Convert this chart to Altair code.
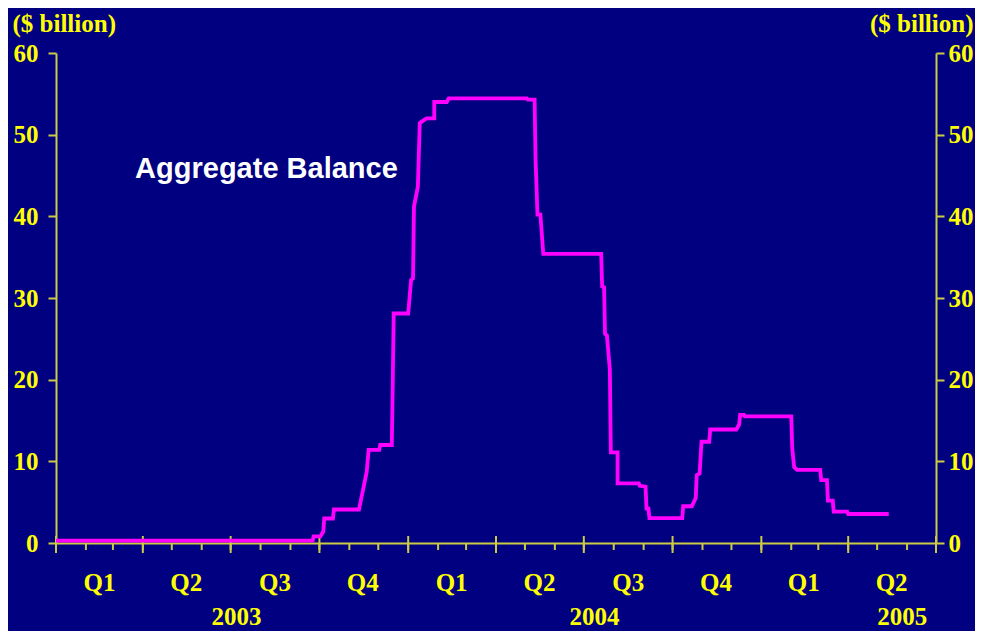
import altair as alt
import pandas as pd

# ---- data ----
line_dates = [
    "2003-01-01", "2003-09-24", "2003-09-25", "2003-10-02", "2003-10-05", "2003-10-06",
    "2003-10-15", "2003-10-16", "2003-11-11", "2003-11-19", "2003-11-21", "2003-12-02",
    "2003-12-03", "2003-12-15", "2003-12-16", "2003-12-17", "2004-01-01", "2004-01-04",
    "2004-01-06", "2004-01-07", "2004-01-11", "2004-01-13", "2004-01-15", "2004-01-20",
    "2004-01-28", "2004-01-28", "2004-02-10", "2004-02-12", "2004-05-03", "2004-05-04",
    "2004-05-11", "2004-05-12", "2004-05-14", "2004-05-17", "2004-05-20", "2004-07-19",
    "2004-07-20", "2004-07-22", "2004-07-23", "2004-07-25", "2004-07-28", "2004-07-29",
    "2004-08-05", "2004-08-05", "2004-08-27", "2004-08-28", "2004-09-03", "2004-09-04",
    "2004-09-06", "2004-09-07", "2004-10-11", "2004-10-12", "2004-10-21", "2004-10-25",
    "2004-10-26", "2004-10-29", "2004-10-31", "2004-11-08", "2004-11-09", "2004-12-06",
    "2004-12-09", "2004-12-10", "2004-12-14", "2004-12-15", "2005-02-01", "2005-02-02",
    "2005-02-04", "2005-02-07", "2005-03-03", "2005-03-04", "2005-03-10", "2005-03-11",
    "2005-03-16", "2005-03-17", "2005-03-31", "2005-04-01", "2005-05-13",
]
line_values = [
    0.3, 0.3, 0.8, 0.8, 1.4, 3.0,
    3.0, 4.1, 4.1, 8.7, 11.4, 11.4,
    12.0, 12.0, 19.5, 28.1, 28.1, 32.2,
    32.4, 41.2, 43.6, 51.4, 51.6, 52.0,
    52.0, 54.0, 54.0, 54.45, 54.45, 54.3,
    54.3, 47.0, 40.2, 40.2, 35.4, 35.4,
    31.4, 31.3, 25.6, 25.4, 21.2, 11.1,
    11.1, 7.3, 7.3, 7.0, 6.9, 4.2,
    4.2, 3.05, 3.05, 4.5, 4.5, 5.5,
    8.3, 8.5, 12.4, 12.4, 13.9, 13.9,
    14.5, 15.7, 15.7, 15.5, 15.5, 11.6,
    9.3, 8.95, 8.95, 7.7, 7.7, 5.2,
    5.2, 3.85, 3.85, 3.55, 3.55,
]

month_ticks = [
    "2003-01-01", "2003-02-01", "2003-03-01", "2003-04-01", "2003-05-01", "2003-06-01",
    "2003-07-01", "2003-08-01", "2003-09-01", "2003-10-01", "2003-11-01", "2003-12-01",
    "2004-01-01", "2004-02-01", "2004-03-01", "2004-04-01", "2004-05-01", "2004-06-01",
    "2004-07-01", "2004-08-01", "2004-09-01", "2004-10-01", "2004-11-01", "2004-12-01",
    "2005-01-01", "2005-02-01", "2005-03-01", "2005-04-01", "2005-05-01", "2005-06-01",
    "2005-07-01",
]
quarter_ticks = [
    "2003-01-01", "2003-04-01", "2003-07-01", "2003-10-01", "2004-01-01", "2004-04-01",
    "2004-07-01", "2004-10-01", "2005-01-01", "2005-04-01", "2005-07-01",
]
quarter_labels = ["Q1", "Q2", "Q3", "Q4", "Q1", "Q2", "Q3", "Q4", "Q1", "Q2"]
quarter_label_dates = [
    "2003-02-15", "2003-05-16", "2003-08-16", "2003-11-15", "2004-02-15",
    "2004-05-16", "2004-08-16", "2004-11-15", "2005-02-14", "2005-05-16",
]
year_labels = ["2003", "2004", "2005"]
year_label_dates = ["2003-07-07", "2004-07-12", "2005-05-27"]
y_ticks = [0, 10, 20, 30, 40, 50, 60]

annot_text = ["Aggregate Balance"]
annot_date = ["2003-03-24"]
annot_value = [44.7]

# ---- styling ----
BG = "#000080"
YEL = "#FFFF00"
AXC = "#CCCC44"
SERIF = "Liberation Serif"
SANS = "Liberation Sans"
FS = 25

line_df = pd.DataFrame({"date": line_dates, "value": line_values,
                        "i": list(range(len(line_dates)))})
month_df = pd.DataFrame({"date": month_ticks})
quarter_df = pd.DataFrame({"date": quarter_ticks})
qlab_df = pd.DataFrame({"date": quarter_label_dates, "label": quarter_labels})
ylab_df = pd.DataFrame({"date": year_label_dates, "label": year_labels})
annot_df = pd.DataFrame({"date": annot_date, "value": annot_value, "label": annot_text})

x_scale = alt.Scale(domain=[alt.DateTime(year=2003, month=1, date=1, utc=True),
                            alt.DateTime(year=2005, month=7, date=1, utc=True)])
y_scale = alt.Scale(domain=[0, 60], nice=False, zero=True)

x_axis = alt.Axis(title=None, labels=False, ticks=False, grid=False,
                  domainColor=AXC, domainWidth=2)

def xenc():
    return alt.X("date:T", scale=x_scale, axis=x_axis)

common_y_axis = dict(values=y_ticks, grid=False, tickSize=8, tickColor=AXC,
                     tickWidth=2, domainColor=AXC, domainWidth=2,
                     labelColor=YEL, labelFont=SERIF, labelFontSize=FS,
                     labelFontWeight="bold", labelFlush=False, labelOverlap=False,
                     title="($ billion)", titleAngle=0, titleColor=YEL,
                     titleFont=SERIF, titleFontSize=FS, titleFontWeight="bold",
                     titleBaseline="middle", titleY=-30)

line = alt.Chart(line_df).mark_line(color="#FF00FF", strokeWidth=3.8,
                                    strokeJoin="miter").encode(
    x=xenc(),
    y=alt.Y("value:Q", scale=y_scale,
            axis=alt.Axis(orient="left", labelPadding=10, titleAlign="left",
                          titleX=-44, **common_y_axis)),
    order=alt.Order("i:Q"),
)

right_axis_layer = alt.Chart(line_df).mark_line(strokeOpacity=0).encode(
    x=xenc(),
    y=alt.Y("value:Q", scale=y_scale,
            axis=alt.Axis(orient="right", labelPadding=4, titleAlign="right",
                          titleX=37, **common_y_axis)),
    order=alt.Order("i:Q"),
)

minor_ticks = alt.Chart(month_df).mark_rule(color=AXC, strokeWidth=2).encode(
    x=xenc(), y=alt.value(491), y2=alt.value(497))

major_ticks = alt.Chart(quarter_df).mark_rule(color=AXC, strokeWidth=2).encode(
    x=xenc(), y=alt.value(483), y2=alt.value(500))

qlabels = alt.Chart(qlab_df).mark_text(
    font=SERIF, fontSize=FS, fontWeight="bold", color=YEL,
    align="center", baseline="alphabetic").encode(
    x=xenc(), y=alt.value(538), text="label:N")

ylabels = alt.Chart(ylab_df).mark_text(
    font=SERIF, fontSize=FS, fontWeight="bold", color=YEL,
    align="center", baseline="alphabetic").encode(
    x=xenc(), y=alt.value(572), text="label:N")

annot = alt.Chart(annot_df).mark_text(
    font=SANS, fontSize=29, fontWeight="bold", color="white",
    align="left", baseline="alphabetic").encode(
    x=xenc(), y=alt.Y("value:Q", scale=y_scale, axis=None), text="label:N")

chart = alt.layer(
    minor_ticks, major_ticks, right_axis_layer, line, qlabels, ylabels, annot
).resolve_axis(y="independent").properties(
    width=880, height=490,
    padding={"left": 48, "top": 45, "right": 39, "bottom": 88},
    autosize=alt.AutoSizeParams(type="none"),
    background=BG,
).configure_view(stroke=None)

chart.save("out.html", embed_options={"renderer": "svg", "actions": False})
